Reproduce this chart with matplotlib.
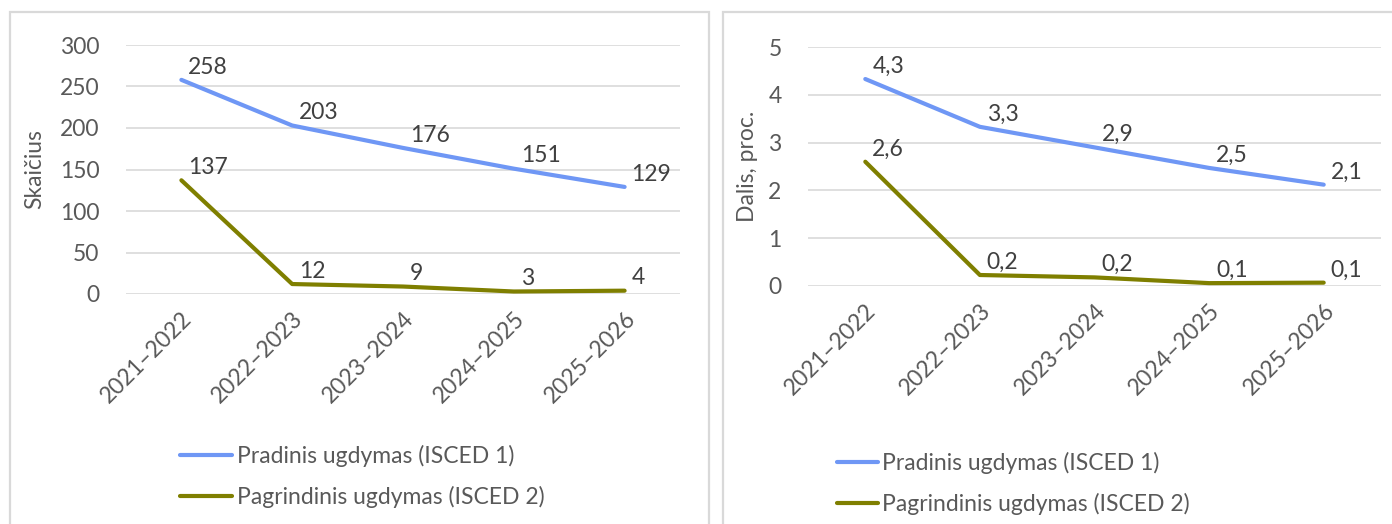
import matplotlib.pyplot as plt
from matplotlib.patches import Rectangle

plt.rcParams['font.family'] = ['Lato', 'DejaVu Sans']

# Duomenys
years = ['2021–2022', '2022–2023', '2023–2024', '2024–2025', '2025–2026']
isced1_count = [258, 203, 176, 151, 129]
isced2_count = [137, 12, 9, 3, 4]
isced1_share = [4.33, 3.33, 2.9, 2.47, 2.12]
isced2_share = [2.6, 0.23, 0.18, 0.06, 0.07]
series_names = ['Pradinis ugdymas (ISCED 1)', 'Pagrindinis ugdymas (ISCED 2)']

blue = '#6F97F5'
olive = '#7F7F00'
grey_text = '#595959'
grid_c = '#D9D9D9'
fs = 16.5

W, H = 1392, 524
fig = plt.figure(figsize=(W / 100, H / 100), dpi=100)


def fx(px):
    return px / W


def fy(py):
    return 1 - py / H


# panelu remeliai
for x0, x1 in [(10, 709), (723, 1400)]:
    fig.patches.append(Rectangle((fx(x0), fy(540)), fx(x1 - x0), (540 - 12) / H,
                                 transform=fig.transFigure, fill=False,
                                 edgecolor=grid_c, lw=1.6))

ax1 = fig.add_axes([fx(126), fy(294), fx(680 - 126), (294 - 45) / H])
ax2 = fig.add_axes([fx(808), fy(286), fx(1381 - 808), (286 - 47) / H])


def style(ax, ymax, step, ylabel, labx):
    x = range(len(years))
    ax.set_xlim(-0.5, len(years) - 0.5)
    ax.set_ylim(0, ymax)
    ax.set_yticks([i * step for i in range(int(round(ymax / step)) + 1)])
    ax.set_xticks(list(x))
    ax.set_xticklabels(years, rotation=45, ha='right', rotation_mode='anchor')
    for s in ax.spines.values():
        s.set_visible(False)
    ax.tick_params(length=0, colors=grey_text, labelsize=fs)
    ax.tick_params(axis='y', pad=19)
    ax.tick_params(axis='x', pad=10)
    ax.grid(axis='y', color=grid_c, lw=1.2)
    ax.set_axisbelow(True)
    ax.set_ylabel(ylabel, fontsize=fs, color=grey_text)
    ax.yaxis.set_label_coords(labx, 0.5)


def fmt(v, dec):
    if dec == 0:
        return str(int(round(v)))
    return f'{v:.{dec}f}'.replace('.', ',')


def draw(ax, a, b, dec):
    x = list(range(len(years)))
    l1, = ax.plot(x, a, color=blue, lw=3.0, solid_capstyle='round', label=series_names[0])
    l2, = ax.plot(x, b, color=olive, lw=3.0, solid_capstyle='round', label=series_names[1])
    for vals in (a, b):
        for xi, v in zip(x, vals):
            ax.annotate(fmt(v, dec), (xi, v), xytext=(5, 4.5), textcoords='offset points',
                        ha='left', va='baseline', fontsize=fs, color='#404040')
    return l1, l2


style(ax1, 300, 50, 'Skaičius', (45 - 126) / 554)
h = draw(ax1, isced1_count, isced2_count, 0)
fig.legend(h, series_names, loc='upper left', bbox_to_anchor=(fx(171), fy(436)),
           borderaxespad=0, frameon=False, fontsize=fs, handlelength=2.27,
           handletextpad=0.22, labelspacing=0.83, labelcolor=grey_text)

style(ax2, 5, 1, 'Dalis, proc.', (758 - 808) / 573)
h = draw(ax2, isced1_share, isced2_share, 1)
fig.legend(h, series_names, loc='upper left', bbox_to_anchor=(fx(828), fy(443)),
           borderaxespad=0, frameon=False, fontsize=fs, handlelength=1.8,
           handletextpad=0.15, labelspacing=0.83, labelcolor=grey_text)

fig.savefig('out.png', dpi=100, facecolor='white')
